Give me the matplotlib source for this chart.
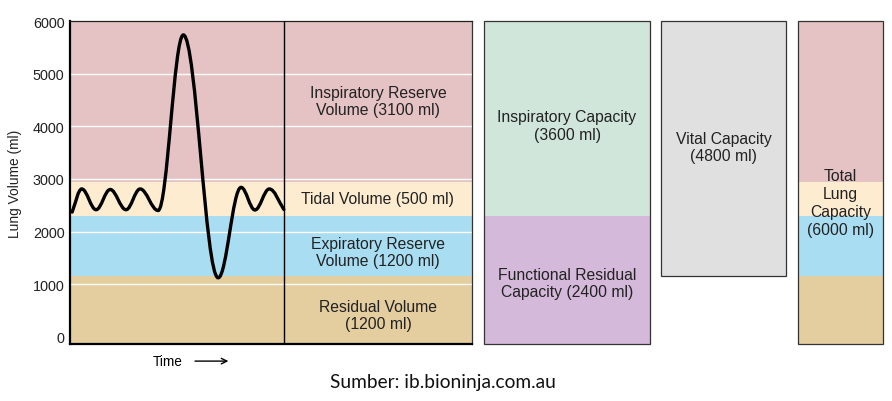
import numpy as np
import matplotlib.pyplot as plt
from matplotlib.path import Path
from matplotlib.patches import PathPatch

plt.rcParams['font.family'] = ['Liberation Sans', 'DejaVu Sans']

# lung volumes, stacked from the bottom (tops in ml, as drawn)
volume_names = ['Residual Volume\n(1200 ml)', 'Expiratory Reserve\nVolume (1200 ml)',
                'Tidal Volume (500 ml)', 'Inspiratory Reserve\nVolume (3100 ml)']
volume_tops = [1150, 2290, 2950, 6000]
volume_colors = ['#e4cd9f', '#a9ddf1', '#fdeccf', '#e5c2c4']
volume_label_y = [410, 1610, 2630, 4480]

capacity_names = ['Functional Residual\nCapacity (2400 ml)', 'Inspiratory Capacity\n(3600 ml)']
capacity_tops = [2290, 6000]
capacity_colors = ['#d5b9da', '#d1e6db']
capacity_label_y = [1020, 4020]

vital_name = 'Vital Capacity\n(4800 ml)'
vital_range = [1150, 6000]
total_name = 'Total\nLung\nCapacity\n(6000 ml)'

yticks = [0, 1000, 2000, 3000, 4000, 5000, 6000]

# spirometer trace turning points (time units, ml)
trace_t = [0.1, 0.55, 1.22, 1.88, 2.62, 3.28, 4.12, 5.3, 6.93, 8.0, 8.65, 9.32, 10.0]
trace_v = [2370, 2810, 2415, 2800, 2415, 2810, 2400, 5740, 1120, 2840, 2410, 2810, 2420]

ymin, ymax = -140, 6000
fs = 11.3

fig = plt.figure(figsize=(8.92, 4.02), dpi=100)
bot, hgt = 57 / 402, 322.7 / 402

# main panel
ax = fig.add_axes([70 / 892, bot, 402 / 892, hgt])
ax.set_xlim(0, 18.8)
ax.set_ylim(ymin, ymax)
lows = [ymin] + volume_tops[:-1]
for lo, hi, c in zip(lows, volume_tops, volume_colors):
    ax.axhspan(lo, hi, color=c, lw=0, zorder=0)
for yt in yticks[1:-1]:
    ax.axhline(yt, color='white', lw=1, zorder=1)
ax.axvline(10, color='black', lw=1, zorder=3)

# smooth trace through turning points with cubic beziers
k = 0.37
verts = [(trace_t[0], trace_v[0])]
codes = [Path.MOVETO]
for i in range(len(trace_t) - 1):
    t0, v0, t1, v1 = trace_t[i], trace_v[i], trace_t[i + 1], trace_v[i + 1]
    dt = t1 - t0
    c1 = (t0 + k * dt, v0 if i > 0 else v0 + 0.4 * (v1 - v0))
    c2 = (t1 - k * dt, v1 if i < len(trace_t) - 2 else v1 - 0.4 * (v1 - v0))
    verts += [c1, c2, (t1, v1)]
    codes += [Path.CURVE4] * 3
ax.add_patch(PathPatch(Path(verts, codes), fc='none', ec='black', lw=2.4, zorder=4,
                       capstyle='round'))

xmid = (10 + 18.8) / 2
for name, y in zip(volume_names, volume_label_y):
    ax.text(xmid, y, name, ha='center', va='center', fontsize=fs, color='#222222')

ax.set_yticks(yticks)
ax.set_xticks([])
ax.tick_params(axis='y', length=0, pad=4, labelsize=10.4, colors='#222222')
ax.spines['left'].set_linewidth(1.6)
ax.spines['bottom'].set_linewidth(1.6)
ax.spines['top'].set_linewidth(0.9)
ax.spines['right'].set_linewidth(0.9)
ax.spines['top'].set_color('#222222')
ax.spines['right'].set_color('#333333')

ax.text(0.244, -0.053, 'Time', transform=ax.transAxes, ha='center', va='center', fontsize=9.8)
ax.annotate('', xy=(0.394, -0.053), xytext=(0.311, -0.053), xycoords='axes fraction',
            arrowprops=dict(arrowstyle='->', lw=1, color='black', shrinkA=0, shrinkB=0))
fig.text(15 / 892, 1 - 184 / 402, 'Lung Volume (ml)', rotation=90, ha='center', va='center',
         fontsize=9.9, color='#222222')


def side_panel(left, width):
    a = fig.add_axes([left / 892, bot, width / 892, hgt])
    a.set_xlim(0, 1)
    a.set_ylim(ymin, ymax)
    a.axis('off')
    return a


# capacities
ax2 = side_panel(484, 166)
lows = [ymin] + capacity_tops[:-1]
for lo, hi, c in zip(lows, capacity_tops, capacity_colors):
    ax2.bar(0.5, hi - lo, bottom=lo, width=1, color=c, lw=0)
ax2.bar(0.5, ymax - ymin, bottom=ymin, width=1, fill=False, ec='#333333', lw=0.9, clip_on=False)
for name, y in zip(capacity_names, capacity_label_y):
    ax2.text(0.5, y, name, ha='center', va='center', fontsize=fs, color='#222222')

# vital capacity
ax3 = side_panel(661, 125)
ax3.bar(0.5, vital_range[1] - vital_range[0], bottom=vital_range[0], width=1,
        color='#e0e0e0', ec='#333333', lw=0.9, clip_on=False)
ax3.text(0.5, 3610, vital_name, ha='center', va='center', fontsize=fs, color='#222222')

# total lung capacity
ax4 = side_panel(798, 85)
lows = [ymin] + volume_tops[:-1]
for lo, hi, c in zip(lows, volume_tops, volume_colors):
    ax4.bar(0.5, hi - lo, bottom=lo, width=1, color=c, lw=0)
ax4.bar(0.5, ymax - ymin, bottom=ymin, width=1, fill=False, ec='#333333', lw=0.9, clip_on=False)
ax4.text(0.5, 2560, total_name, ha='center', va='center', fontsize=fs, color='#222222',
         linespacing=1.25)

fig.text(443 / 892, 1 - 383 / 402, 'Sumber: ib.bioninja.com.au', ha='center', va='center',
         fontsize=13.8, family=['Lato', 'DejaVu Sans'], color='#111111')

fig.savefig('out.png', dpi=100)
